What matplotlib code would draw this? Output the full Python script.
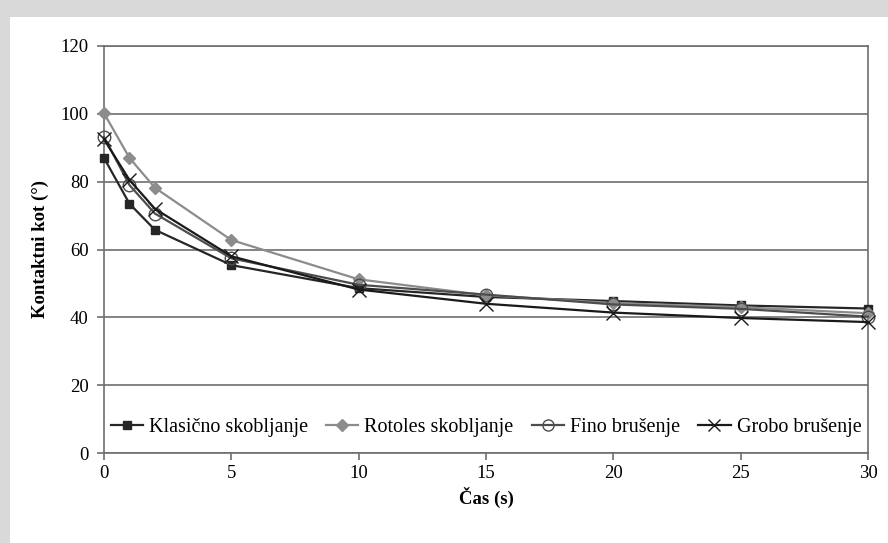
import matplotlib
matplotlib.use("Agg")
import matplotlib.pyplot as plt
from matplotlib.patches import Rectangle

# time (s)
cas = [0, 1, 2, 5, 10, 15, 20, 25, 30]

# contact angle (deg) per surface treatment
klasicno = [87.0, 73.5, 65.8, 55.4, 48.6, 46.0, 44.8, 43.5, 42.6]
rotoles = [100.2, 87.0, 78.2, 62.8, 51.2, 46.5, 44.2, 43.0, 41.2]
fino = [93.2, 79.0, 70.6, 57.4, 49.6, 46.7, 43.8, 42.5, 40.2]
grobo = [92.5, 80.5, 72.0, 58.0, 48.2, 44.0, 41.4, 39.8, 38.6]

labels = ["Klasično skobljanje", "Rotoles skobljanje", "Fino brušenje", "Grobo brušenje"]
yticks = [0, 20, 40, 60, 80, 100, 120]
xticks = [0, 5, 10, 15, 20, 25, 30]

plt.rcParams["font.family"] = ["Liberation Serif", "DejaVu Serif"]

fig = plt.figure(figsize=(8.88, 5.43), dpi=100)
fig.patch.set_facecolor("#d9d9d9")
fig.patches.append(Rectangle((10 / 888, 0), 1, 1 - 17 / 543, transform=fig.transFigure,
                             facecolor="white", edgecolor="none", zorder=-10))
ax = fig.add_axes([104 / 888, 1 - 453 / 543, (868 - 104) / 888, (453 - 46) / 543])

ax.plot(cas, klasicno, "s-", color="#262626", lw=1.6, ms=6, label=labels[0], zorder=3,
        clip_on=False)
ax.plot(cas, rotoles, "D-", color="#8c8c8c", mec="#8c8c8c", mfc="#8c8c8c", lw=1.6, ms=6,
        label=labels[1], zorder=3, clip_on=False)
ax.plot(cas, fino, "o-", color="#4d4d4d", mfc="none", mec="#4d4d4d", lw=1.6, ms=9,
        label=labels[2], zorder=3, clip_on=False)
ax.plot(cas, grobo, "x-", color="#1a1a1a", lw=1.6, ms=10, mew=1.0, label=labels[3], zorder=3,
        clip_on=False)

ax.set_xlim(0, 30)
ax.set_ylim(0, 120)
ax.set_xticks(xticks)
ax.set_yticks(yticks)
ax.tick_params(axis="both", labelsize=13.5, direction="out", length=5, color="#6e6e6e",
               width=1.2)
ax.tick_params(axis="x", pad=4)
ax.tick_params(axis="y", pad=6)
ax.yaxis.grid(True, color="#6e6e6e", lw=1.2)
ax.set_axisbelow(True)
for s in ax.spines.values():
    s.set_color("#6e6e6e")
    s.set_linewidth(1.2)

ax.set_xlabel("Čas (s)", fontsize=13.5, fontweight="bold", labelpad=3)
ax.set_ylabel("Kontaktni kot (°)", fontsize=13.5, fontweight="bold", labelpad=8)

leg = ax.legend(loc="lower center", bbox_to_anchor=(0.5, 0.03), ncol=4, frameon=True,
                fontsize=14.5, handlelength=1.6, handletextpad=0.3, columnspacing=0.9,
                borderaxespad=0, fancybox=False, edgecolor="none", facecolor="white",
                framealpha=1, borderpad=0.2)
for h, ms in zip(leg.legend_handles, [6, 6, 8, 8]):
    h.set_markersize(ms)

plt.savefig("out.png", dpi=100, facecolor=fig.get_facecolor())
